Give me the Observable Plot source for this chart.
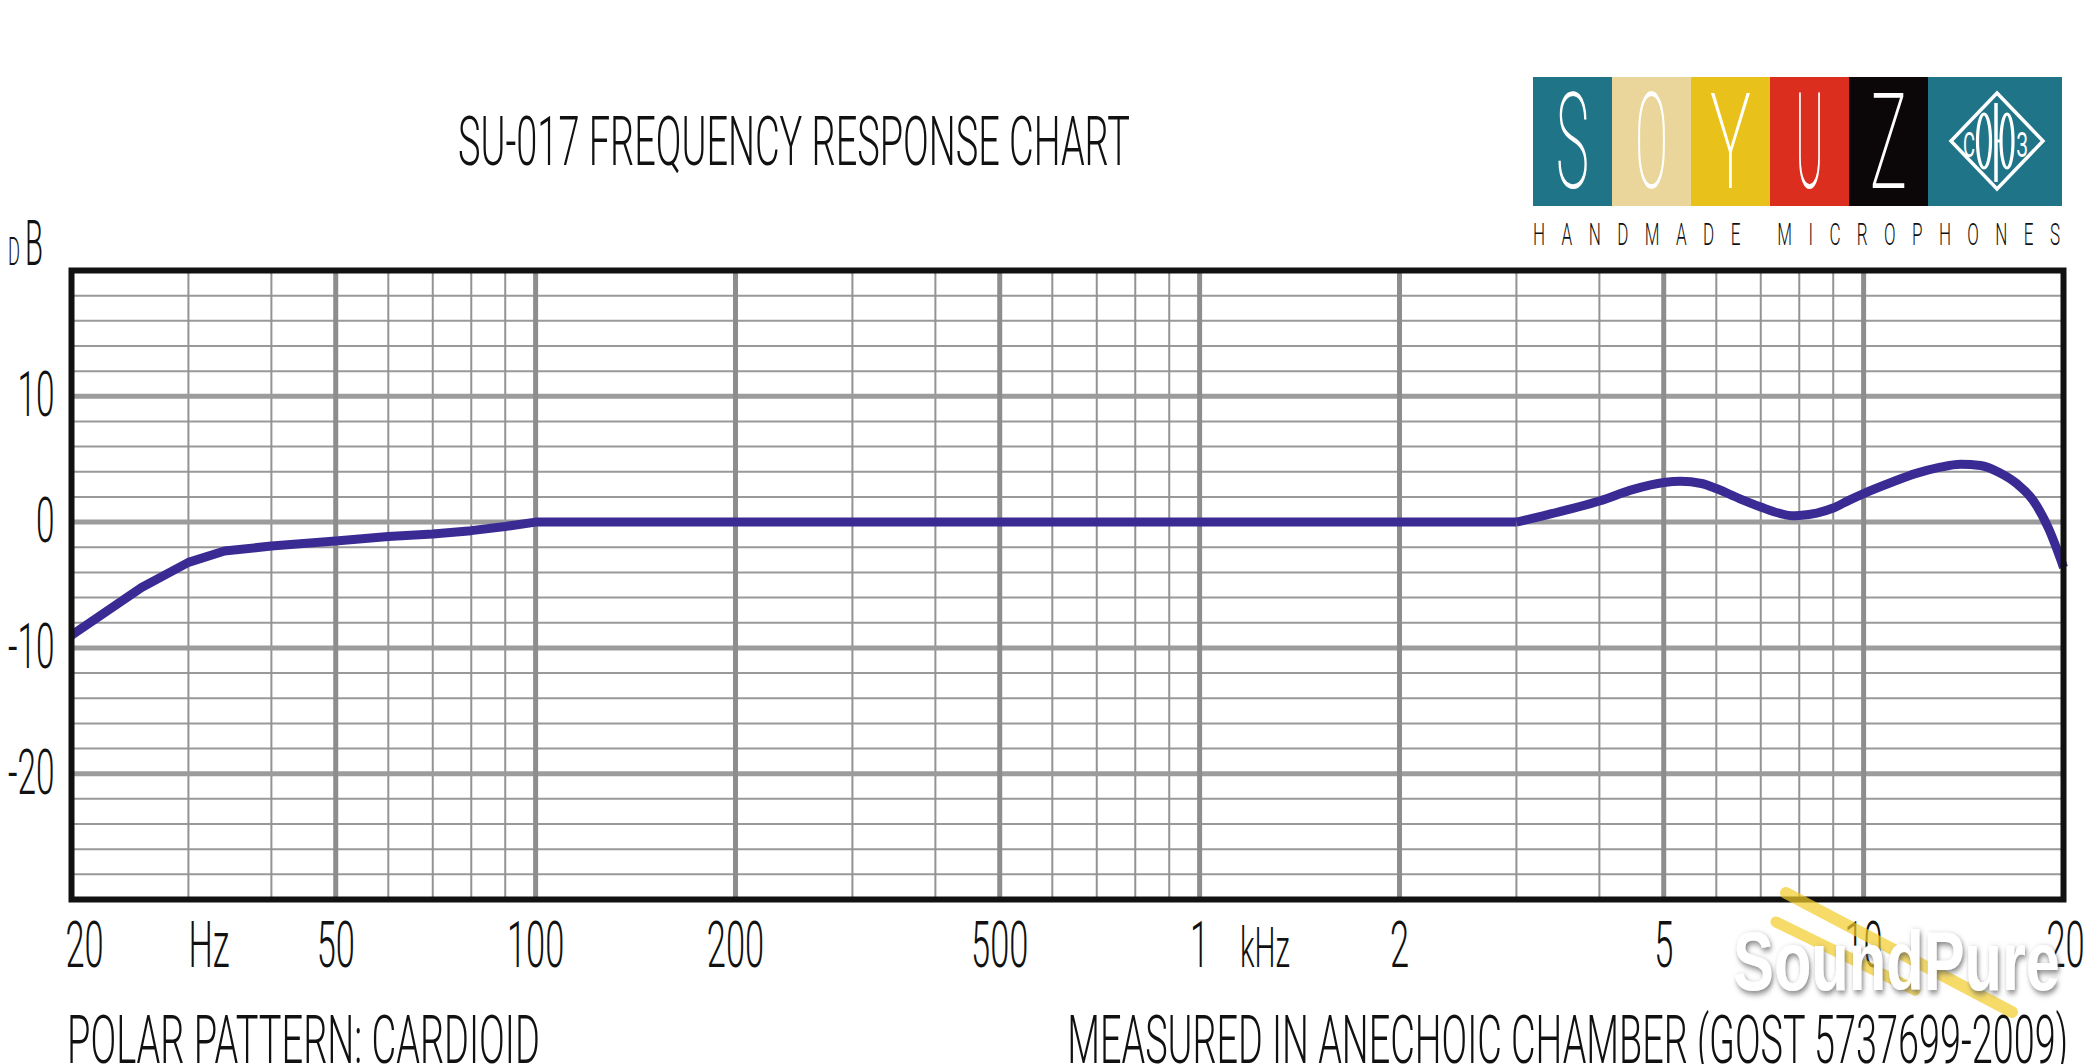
<!DOCTYPE html>
<html>
<head>
<meta charset="utf-8">
<script src="https://cdn.jsdelivr.net/npm/d3@7"></script>
<script src="https://cdn.jsdelivr.net/npm/@observablehq/plot@0.6"></script>
<style>
  html, body { margin: 0; padding: 0; background: #ffffff; }
  #page { position: relative; width: 2097px; height: 1064px; overflow: hidden; background: #fff; }
  #chart { position: absolute; left: 0; top: 0; }
  #overlay { position: absolute; left: 0; top: 0; pointer-events: none; }
</style>
</head>
<body>
<div id="page">
  <div id="chart"></div>
</div>
<script>
// ---------------- DATA ----------------
const freqHz = [20, 25.5, 30, 34, 40, 50, 60, 70, 80, 90, 100, 3000, 3500, 4000, 4500, 5000, 5300, 5700, 6000, 6500, 7000, 7500, 7800, 8000, 8500, 9000, 9500, 10000, 11000, 12000, 13000, 14000, 15000, 16000, 17000, 18000, 19000, 20000];
const responseDb = [-9.0, -5.2, -3.2, -2.3, -1.9, -1.5, -1.15, -0.95, -0.68, -0.35, 0, 0, 0.85, 1.68, 2.6, 3.15, 3.25, 3.07, 2.67, 1.87, 1.2, 0.67, 0.5, 0.53, 0.72, 1.12, 1.73, 2.27, 3.15, 3.87, 4.35, 4.6, 4.5, 3.95, 3.07, 1.73, -0.53, -3.6];

const majorFreqs = [50, 100, 200, 500, 1000, 2000, 5000, 10000];
const minorFreqs = [30, 40, 60, 70, 80, 90, 300, 400, 600, 700, 800, 900, 3000, 4000, 6000, 7000, 8000, 9000];
const majorDb = [10, 0, -10, -20];
const minorDb = [18, 16, 14, 12, 8, 6, 4, 2, -2, -4, -6, -8, -12, -14, -16, -18, -22, -24, -26, -28];

const xTickValues = [50, 100, 200, 500, 1000, 2000, 5000, 10000];
const xTickLabels = ["50", "100", "200", "500", "1", "2", "5", "10"];
const xEdgeValues = [20, 20000];
const xEdgeLabels = ["20", "20"];
const yTickValues = [10, 0, -10, -20];
const yTickLabels = ["10", "0", "-10", "-20"];

const titleText = "SU-017 FREQUENCY RESPONSE CHART";
const leftNote = "POLAR PATTERN: CARDIOID";
const rightNote = "MEASURED IN ANECHOIC CHAMBER (GOST 5737699-2009)";
const logoLetters = ["S", "O", "Y", "U", "Z"];
const logoTagline = "HANDMADE MICROPHONES";

// ---------------- CHART ----------------
const FONT = "Roboto, 'Liberation Sans', 'DejaVu Sans', sans-serif";
const points = freqHz.map((f, i) => ({f, db: responseDb[i]}));
const lab = {fill: "#111", fontWeight: 300, lineAnchor: "middle"};

const chart = Plot.plot({
  width: 2097,
  height: 1064,
  marginTop: 270,
  marginBottom: 165,
  marginLeft: 71,
  marginRight: 34,
  x: {type: "log", domain: [20, 20000], axis: null},
  y: {domain: [-30, 20], axis: null},
  style: {background: "#ffffff", fontFamily: FONT, color: "#111", overflow: "visible"},
  marks: [
    Plot.ruleY(minorDb, {stroke: "#999999", strokeWidth: 2}),
    Plot.ruleX(minorFreqs, {stroke: "#939393", strokeWidth: 2}),
    Plot.ruleY(majorDb, {stroke: "#9c9c9c", strokeWidth: 5}),
    Plot.ruleX(majorFreqs, {stroke: "#8d8d8d", strokeWidth: 5}),
    Plot.line(points, {filter: d => d.f <= 3000, x: "f", y: "db", stroke: "#3a2b94", strokeWidth: 9, curve: "linear", strokeLinecap: "butt", strokeLinejoin: "round"}),
    Plot.line(points, {filter: d => d.f >= 3000, x: "f", y: "db", stroke: "#3a2b94", strokeWidth: 9, curve: "monotone-x", strokeLinecap: "butt", strokeLinejoin: "round"}),
    Plot.frame({stroke: "#111111", strokeWidth: 6}),
    // x tick labels
    Plot.text(xTickValues, {...lab, x: d => d, text: (d, i) => xTickLabels[i], frameAnchor: "bottom", dy: 47, fontSize: 65}),
    Plot.text([xEdgeValues[0]], {...lab, x: d => d, text: () => xEdgeLabels[0], frameAnchor: "bottom", dy: 47, dx: -6, textAnchor: "start", fontSize: 65}),
    Plot.text([xEdgeValues[1]], {...lab, x: d => d, text: () => xEdgeLabels[1], frameAnchor: "bottom", dy: 47, dx: 2, fontSize: 65}),
    Plot.text([30], {...lab, x: d => d, text: () => "Hz", frameAnchor: "bottom", dy: 47, textAnchor: "start", fontSize: 65}),
    Plot.text([1150], {...lab, x: d => d, text: () => "kHz", frameAnchor: "bottom", dy: 50, textAnchor: "start", fontSize: 56}),
    // y tick labels
    Plot.text(yTickValues, {...lab, y: d => d, text: (d, i) => yTickLabels[i], frameAnchor: "left", dx: -17, textAnchor: "end", fontSize: 63})
  ]
});
document.getElementById("chart").appendChild(chart);

// condense chart labels horizontally (narrow typeface look) with a transform about each anchor
const K = 0.53;
d3.select(chart).selectAll("text").each(function() {
  const t = d3.select(this);
  const tr = t.attr("transform") || "";
  t.attr("transform", (tr + ` scale(${K},1)`).trim());
  const x = t.attr("x");
  if (x != null && !isNaN(+x)) t.attr("x", +x / K);
  const dx = t.attr("dx");
  if (dx != null && !isNaN(+dx)) t.attr("dx", +dx / K);
});

// ---------------- OVERLAY: title, logo, notes ----------------
const ov = d3.select("#page").append("svg")
  .attr("id", "overlay")
  .attr("width", 2097).attr("height", 1064)
  .style("font-family", FONT);

// place a text whose visible width is squeezed to `width` with a horizontal scale
function squeezed(parent, x, y, size, weight, width, text, anchor, fill, family) {
  const g = parent.append("g").attr("transform", `translate(${x},${y})`);
  const t = g.append("text")
    .attr("font-size", size).attr("font-weight", weight)
    .attr("fill", fill || "#111")
    .attr("text-anchor", anchor || "start")
    .text(text);
  if (family) t.attr("font-family", family);
  const w = t.node().getComputedTextLength();
  const k = w > 0 ? width / w : 1;
  t.attr("transform", `scale(${k.toFixed(4)},1)`);
  return t;
}

// title
squeezed(ov, 458, 165, 69, 300, 672, titleText);

// dB unit label
squeezed(ov, 8, 265, 39, 300, 12, "D");
squeezed(ov, 25, 265, 63, 300, 18, "B");

// footnotes
squeezed(ov, 67, 1063, 67, 300, 473, leftNote);
squeezed(ov, 2068, 1063, 67, 300, 1001, rightNote, "end");

// logo blocks
const logoColors = ["#1f7487", "#ead59b", "#e8c21b", "#db2e1f", "#0b0607"];
const logoX0 = 1533, blockW = 79, logoTop = 77, logoH = 129;
const letterW = [33, 33, 41, 28, 37];
logoLetters.forEach((ch, i) => {
  ov.append("rect").attr("x", logoX0 + i * blockW).attr("y", logoTop).attr("width", blockW + 0.5).attr("height", logoH).attr("fill", logoColors[i]);
  squeezed(ov, logoX0 + i * blockW + blockW / 2, 188, 134, 200, letterW[i], ch, "middle", "#fff");
});
const dX = logoX0 + 5 * blockW;
ov.append("rect").attr("x", dX).attr("y", logoTop).attr("width", 2062 - dX).attr("height", logoH).attr("fill", "#1f7487");
const cx = 1997, cy = 141;
ov.append("path").attr("d", `M${cx},${cy - 48} L${cx + 46},${cy} L${cx},${cy + 48} L${cx - 46},${cy} Z`)
  .attr("fill", "none").attr("stroke", "#fff").attr("stroke-width", 3.5).attr("stroke-linejoin", "miter");
squeezed(ov, 1969, 157, 35, 400, 12, "С", "middle", "#fff");
ov.append("ellipse").attr("cx", 1984).attr("cy", cy).attr("rx", 6.5).attr("ry", 27).attr("fill", "none").attr("stroke", "#fff").attr("stroke-width", 3.2);
ov.append("line").attr("x1", 1996).attr("x2", 1996).attr("y1", 103).attr("y2", 182).attr("stroke", "#fff").attr("stroke-width", 3.5);
ov.append("line").attr("x1", 1996).attr("x2", 2001).attr("y1", cy).attr("y2", cy).attr("stroke", "#fff").attr("stroke-width", 3);
ov.append("ellipse").attr("cx", 2007).attr("cy", cy).attr("rx", 6).attr("ry", 27).attr("fill", "none").attr("stroke", "#fff").attr("stroke-width", 3.2);
squeezed(ov, 2022, 157, 35, 400, 11, "З", "middle", "#fff");

// tagline, evenly letter-spaced across the logo width
{
  const target = 527, k = 0.55;
  const g = ov.append("g").attr("transform", `translate(1533,245) scale(${k},1)`);
  const t = g.append("text").attr("font-size", 31).attr("font-weight", 300).attr("fill", "#111")
    .style("white-space", "pre").text(logoTagline);
  const w = t.node().getComputedTextLength();
  const n = logoTagline.length;
  const ls = (target / k - w) / (n - 1);
  t.attr("letter-spacing", ls.toFixed(2));
}

// watermark
const defs = ov.append("defs");
const flt = defs.append("filter").attr("id", "wmShadow").attr("x", "-10%").attr("y", "-20%").attr("width", "120%").attr("height", "150%");
flt.append("feDropShadow").attr("dx", 2).attr("dy", 3).attr("stdDeviation", 3).attr("flood-color", "#555").attr("flood-opacity", 0.75);
ov.append("line").attr("x1", 1786).attr("y1", 893).attr("x2", 2012).attr("y2", 1012)
  .attr("stroke", "#f2cc2a").attr("stroke-opacity", 0.7).attr("stroke-width", 12).attr("stroke-linecap", "round");
ov.append("line").attr("x1", 1776).attr("y1", 922).attr("x2", 1915).attr("y2", 990)
  .attr("stroke", "#f2cc2a").attr("stroke-opacity", 0.7).attr("stroke-width", 11).attr("stroke-linecap", "round");
squeezed(ov, 1733, 990, 84, 700, 327, "SoundPure", "start", "#ffffff", "'Liberation Sans', Arial, sans-serif")
  .attr("filter", "url(#wmShadow)");
</script>
</body>
</html>
